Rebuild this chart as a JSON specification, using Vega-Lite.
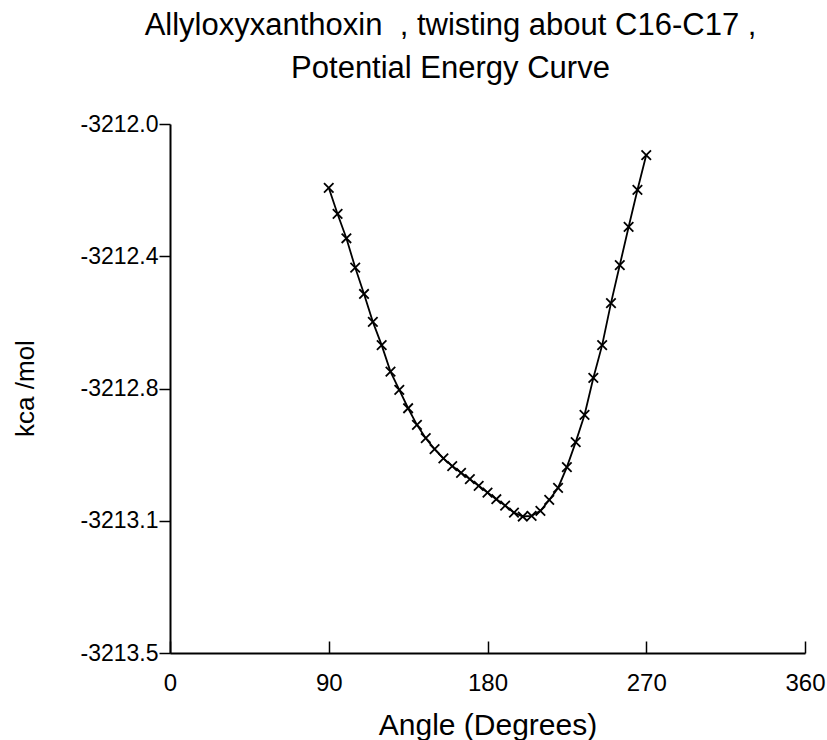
{
  "$schema": "https://vega.github.io/schema/vega-lite/v6.json",
  "width": 635,
  "height": 529,
  "autosize": {"type": "none"},
  "padding": {"left": 170, "top": 124, "right": 22, "bottom": 87},
  "background": "white",
  "title": {
    "text": ["Allyloxyxanthoxin\u00a0 , twisting about C16-C17 ,", "Potential Energy Curve"],
    "font": "Liberation Sans",
    "fontSize": 31,
    "fontWeight": "normal",
    "color": "black",
    "lineHeight": 43,
    "anchor": "middle",
    "dx": -37,
    "offset": 28
  },
  "data": {
    "values": [
      {"angle": 90, "energy": -3212.181},
      {"angle": 95, "energy": -3212.255},
      {"angle": 100, "energy": -3212.324},
      {"angle": 105, "energy": -3212.407},
      {"angle": 110, "energy": -3212.482},
      {"angle": 115, "energy": -3212.561},
      {"angle": 120, "energy": -3212.627},
      {"angle": 125, "energy": -3212.702},
      {"angle": 130, "energy": -3212.754},
      {"angle": 135, "energy": -3212.806},
      {"angle": 140, "energy": -3212.853},
      {"angle": 145, "energy": -3212.891},
      {"angle": 150, "energy": -3212.922},
      {"angle": 155, "energy": -3212.948},
      {"angle": 160, "energy": -3212.970},
      {"angle": 165, "energy": -3212.989},
      {"angle": 170, "energy": -3213.007},
      {"angle": 175, "energy": -3213.026},
      {"angle": 180, "energy": -3213.045},
      {"angle": 185, "energy": -3213.064},
      {"angle": 190, "energy": -3213.082},
      {"angle": 195, "energy": -3213.102},
      {"angle": 200, "energy": -3213.113},
      {"angle": 205, "energy": -3213.111},
      {"angle": 210, "energy": -3213.097},
      {"angle": 215, "energy": -3213.066},
      {"angle": 220, "energy": -3213.032},
      {"angle": 225, "energy": -3212.973},
      {"angle": 230, "energy": -3212.902},
      {"angle": 235, "energy": -3212.825},
      {"angle": 240, "energy": -3212.720},
      {"angle": 245, "energy": -3212.627},
      {"angle": 250, "energy": -3212.508},
      {"angle": 255, "energy": -3212.400},
      {"angle": 260, "energy": -3212.292},
      {"angle": 265, "energy": -3212.187},
      {"angle": 270, "energy": -3212.088}
    ]
  },
  "encoding": {
    "x": {
      "field": "angle",
      "type": "quantitative",
      "scale": {"domain": [0, 360], "nice": false, "zero": false},
      "axis": {
        "title": "Angle (Degrees)",
        "values": [0, 90, 180, 270, 360],
        "format": "d",
        "grid": false,
        "labelFlush": false,
        "tickSize": -12,
        "labelPadding": 30,
        "labelFont": "Liberation Sans",
        "labelFontSize": 24,
        "titleFont": "Liberation Sans",
        "titleFontSize": 30,
        "titleFontWeight": "normal",
        "titleY": 72,
        "titleBaseline": "middle"
      }
    },
    "y": {
      "field": "energy",
      "type": "quantitative",
      "scale": {"domain": [-3213.5, -3212], "nice": false, "zero": false},
      "axis": {
        "title": "kca /mol",
        "values": [-3212, -3212.375, -3212.75, -3213.125, -3213.5],
        "labelExpr": "replace(format(datum.value, '.1f'), '\u2212', '-')",
        "grid": false,
        "labelFlush": false,
        "tickSize": 11,
        "labelPadding": 1,
        "labelFont": "Liberation Sans",
        "labelFontSize": 23,
        "titleFont": "Liberation Sans",
        "titleFontSize": 26,
        "titleFontWeight": "normal",
        "titleX": -145,
        "titleY": 264,
        "titleBaseline": "middle",
        "titleAlign": "center"
      }
    }
  },
  "layer": [
    {"mark": {"type": "line", "color": "black", "strokeWidth": 1.8}},
    {"mark": {"type": "point", "shape": "M-1,-1L1,1M-1,1L1,-1", "filled": false, "stroke": "black", "strokeWidth": 1.8, "size": 90, "opacity": 1}}
  ],
  "config": {
    "view": {"stroke": null},
    "axis": {
      "domainColor": "black",
      "domainWidth": 2,
      "tickColor": "black",
      "tickWidth": 1.5,
      "labelColor": "black",
      "titleColor": "black"
    }
  }
}
